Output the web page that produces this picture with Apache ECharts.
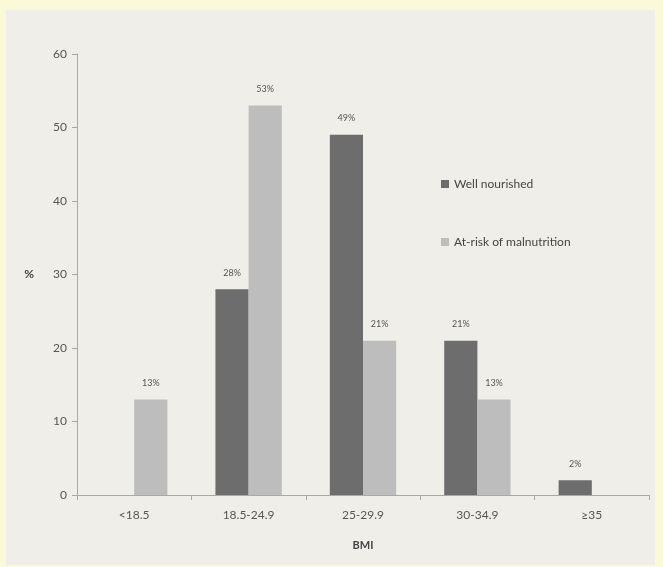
<!DOCTYPE html>
<html>
<head>
<meta charset="utf-8">
<script src="https://cdn.jsdelivr.net/npm/echarts@6/dist/echarts.min.js"></script>
<style>
  html, body { margin: 0; padding: 0; background: #fbfad8; }
  #chart { width: 663px; height: 567px; }
</style>
</head>
<body>
<div id="chart"></div>
<script>
// BMI categories
const categories = ['<18.5', '18.5-24.9', '25-29.9', '30-34.9', '≥35']
// percentages per group
const wellNourished = [0, 28, 49, 21, 2]
const atRisk = [13, 53, 21, 13, 0]
const seriesNames = ['Well nourished', 'At-risk of malnutrition']

const chart = echarts.init(document.getElementById('chart'))
const font = 'Lato, "Open Sans", sans-serif'

// label above bar, hidden for zero values
const pctLabel = {
  show: true,
  position: 'top',
  distance: 12,
  fontSize: 9,
  color: '#555',
  fontFamily: font,
  formatter: p => (p.value ? p.value + '%' : '')
}

const option = {
  backgroundColor: '#fbfad8',
  animation: false,
  graphic: [{
    type: 'rect',
    shape: { x: 6, y: 10, width: 649, height: 555 },
    style: { fill: '#efeee8' },
    z: -10
  }],
  grid: { left: 77, right: 14, top: 54, bottom: 72 },
  legend: {
    orient: 'vertical',
    left: 436,
    top: 173,
    itemGap: 46,
    itemWidth: 8,
    itemHeight: 8,
    icon: 'rect',
    textStyle: { fontSize: 12, color: '#444', fontFamily: font },
    data: seriesNames
  },
  xAxis: {
    type: 'category',
    data: categories,
    name: 'BMI',
    nameLocation: 'middle',
    nameGap: 45,
    nameTextStyle: { fontSize: 11, fontWeight: 'bold', color: '#444', fontFamily: font },
    axisLine: { lineStyle: { color: '#a8a8a8' } },
    axisTick: { show: true, length: 5, lineStyle: { color: '#a8a8a8' } },
    axisLabel: { fontSize: 12, color: '#555', margin: 14, fontFamily: font }
  },
  yAxis: {
    type: 'value',
    min: 0,
    max: 60,
    interval: 10,
    name: '%',
    nameLocation: 'middle',
    nameRotate: 0,
    nameGap: 43,
    nameTextStyle: { fontSize: 12, fontWeight: 'bold', color: '#444', fontFamily: font },
    splitLine: { show: false },
    axisLine: { show: true, lineStyle: { color: '#a8a8a8' } },
    axisTick: { show: true, length: 5, lineStyle: { color: '#a8a8a8' } },
    axisLabel: { fontSize: 12, color: '#555', margin: 10, fontFamily: font }
  },
  series: [
    {
      name: seriesNames[0],
      type: 'bar',
      data: wellNourished,
      barGap: '0%',
      barCategoryGap: '42%',
      itemStyle: { color: '#6d6d6d' },
      label: pctLabel
    },
    {
      name: seriesNames[1],
      type: 'bar',
      data: atRisk,
      itemStyle: { color: '#bdbdbd' },
      label: pctLabel
    }
  ]
}

chart.setOption(option)
</script>
</body>
</html>
